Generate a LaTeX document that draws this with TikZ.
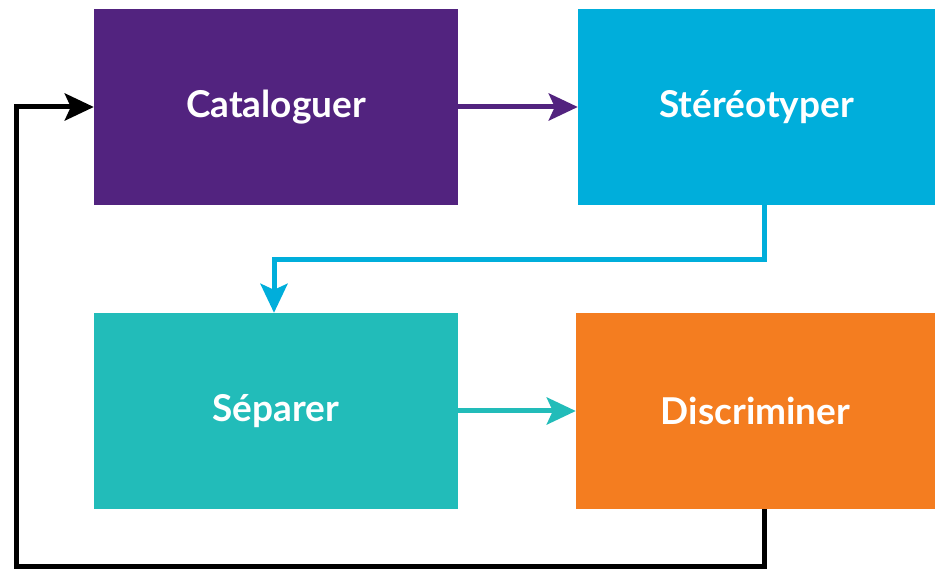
\documentclass[tikz,border=0pt]{standalone}
\usepackage{fontspec}
\setmainfont{Lato}
\definecolor{catPurple}{RGB}{82, 35, 127}
\definecolor{sterCyan}{RGB}{0, 174, 219}
\definecolor{sepTeal}{RGB}{34, 188, 185}
\definecolor{discOrange}{RGB}{244, 125, 32}
\usepackage{tikz}
\usetikzlibrary{positioning,calc,arrows.meta}

\begin{document}
\begin{tikzpicture}[x=1pt,y=-1pt,
    stage/.style={rectangle,inner sep=0pt,minimum width=364pt,minimum height=196pt,
        text=white,font=\fontsize{37}{42}\selectfont\bfseries},
    flow/.style={line width=5pt,-{Stealth[length=29pt,width=27pt,inset=6pt]}}]
    \useasboundingbox (0,0) rectangle (935,569);
    % the four stages
    \node[stage,fill=catPurple] (cat) at (276,107) {Cataloguer};
    \node[stage,fill=sterCyan,minimum width=357pt] (ster) at (756.5,107) {Stéréotyper};
    \node[stage,fill=sepTeal] (sep) at (276,411) {Séparer};
    \node[stage,fill=discOrange,minimum width=359pt] (disc) at (755.5,411) {Discriminer};
    % connectors
    \draw[flow,catPurple] (cat.east) -- (ster.west);
    \draw[flow,sterCyan] ([xshift=8pt]ster.south) -- ++(0,54) -| ([xshift=-2pt]sep.north);
    \draw[flow,sepTeal] (sep.east) -- (disc.west);
    \coordinate (back) at (16,566);
    \draw[flow,black] ([xshift=8.5pt]disc.south) |- (back) |- (cat.west);
\end{tikzpicture}
\end{document}
